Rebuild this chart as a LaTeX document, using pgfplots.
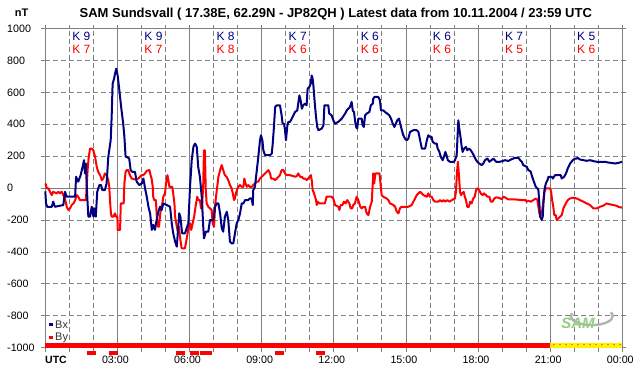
\documentclass[border=0pt]{standalone}
\usepackage{pgfplots}
\pgfplotsset{compat=1.18}
\usepackage{fontspec}
\setmainfont{Liberation Sans}
\usetikzlibrary{patterns.meta}
\definecolor{navy}{RGB}{0,0,128}
\definecolor{gridgray}{RGB}{128,128,128}
\definecolor{samgreen}{RGB}{110,190,90}
\tikzset{
  kb/.style={text=navy, font=\fontsize{12}{14}\selectfont, inner sep=0pt},
  kr/.style={text=red, font=\fontsize{12}{14}\selectfont, inner sep=0pt},
}

\begin{document}
\begin{tikzpicture}[x=1pt,y=1pt]
\fill[white] (0,0) rectangle (642,376);
\useasboundingbox (0,0) rectangle (642,376);
\begin{axis}[
  at={(45.3pt,28.3pt)}, anchor=south west,
  scale only axis, width=577pt, height=319.2pt,
  xmin=0, xmax=24, ymin=-1000, ymax=1000,
  clip=false,
  axis line style={gridgray, line width=0.8pt},
  xtick={0,1,...,24},
  xticklabels={},
  extra x ticks={0,3,...,24},
  extra x tick labels={\phantom{0},03:00,06:00,09:00,12:00,15:00,18:00,21:00,00:00},
  extra x tick style={grid=major, major grid style={gridgray, solid, line width=0.8pt}},
  tick align=outside,
  major tick length=4pt,
  tick style={gridgray, line width=0.8pt},
  ytick={-1000,-800,...,1000},
  yticklabels={-1000,-800,-600,-400,-200,0,200,400,600,800,1000},
  extra y ticks={0},
  extra y tick labels={},
  extra y tick style={grid=major, major grid style={gridgray, solid, line width=0.8pt}},
  xmajorgrids, ymajorgrids,
  major grid style={gridgray, line width=0.8pt, dash pattern=on 5pt off 3pt},
  tick label style={font=\fontsize{10.7}{12}\selectfont},
  xticklabel style={xshift=-2pt, yshift=-0.5pt},
  yticklabel style={anchor=west, xshift=-37.6pt},
]
% bottom status strip
\addplot[fill=red, draw=none] coordinates {(0,-1000) (21,-1000) (21,-969) (0,-969)} -- cycle;
\addplot[fill=yellow, draw=none] coordinates {(21,-1000) (24,-1000) (24,-969) (21,-969)} -- cycle;
\addplot[draw=none, pattern={Dots[distance=6pt, radius=0.55pt, xshift=2pt, yshift=1.5pt]}, pattern color=red] coordinates {(21,-1000) (24,-1000) (24,-969) (21,-969)} -- cycle;
% small red marks below the axis
\addplot[fill=red, draw=none] coordinates {(1.73,-1019) (2.11,-1019) (2.11,-1048) (1.73,-1048)} -- cycle;
\addplot[fill=red, draw=none] coordinates {(2.66,-1019) (3.01,-1019) (3.01,-1048) (2.66,-1048)} -- cycle;
\addplot[fill=red, draw=none] coordinates {(5.44,-1019) (5.81,-1019) (5.81,-1048) (5.44,-1048)} -- cycle;
\addplot[fill=red, draw=none] coordinates {(6.01,-1019) (6.39,-1019) (6.39,-1048) (6.01,-1048)} -- cycle;
\addplot[fill=red, draw=none] coordinates {(6.44,-1019) (6.92,-1019) (6.92,-1048) (6.44,-1048)} -- cycle;
\addplot[fill=red, draw=none] coordinates {(9.57,-1019) (9.92,-1019) (9.92,-1048) (9.57,-1048)} -- cycle;
\addplot[fill=red, draw=none] coordinates {(11.26,-1019) (11.63,-1019) (11.63,-1048) (11.26,-1048)} -- cycle;

% By (red)
\addplot[red, line width=2pt, line join=round] coordinates {
(0.00,29)(0.03,20)(0.06,-2)(0.13,-2)(0.20,-23)(0.27,-44)(0.33,-23)(0.47,-33)(0.54,-23)(0.61,-33)
(0.68,-23)(0.75,-44)(0.82,-65)(0.89,-117)(0.96,-137)(1.03,-127)(1.10,-106)(1.17,-96)(1.24,-75)(1.31,-44)
(1.37,-54)(1.44,-75)(1.69,-75)(1.72,8)(1.76,113)(1.80,185)(1.86,248)(1.93,248)(2.00,237)(2.07,196)
(2.14,133)(2.20,102)(2.28,81)(2.35,50)(2.41,60)(2.48,92)(2.55,81)(2.62,50)(2.66,8)(2.69,-75)
(2.73,-158)(2.76,-179)(2.83,-179)(2.90,-158)(2.94,-179)(3.00,-179)(3.01,-262)(3.11,-262)(3.14,-96)(3.26,-96)
(3.29,29)(3.34,102)(3.39,113)(3.45,113)(3.52,81)(3.59,60)(3.73,54)(3.87,60)(3.94,71)(4.01,81)
(4.08,81)(4.15,92)(4.22,108)(4.33,113)(4.38,81)(4.42,60)(4.47,8)(4.49,-54)(4.53,-75)(4.60,-75)
(4.63,-158)(4.68,-242)(4.73,-242)(4.77,-179)(4.81,-127)(4.87,-96)(4.91,-54)(4.98,-33)(5.02,29)(5.08,81)
(5.12,50)(5.16,8)(5.28,8)(5.32,-33)(5.37,-96)(5.40,-179)(5.47,-242)(5.53,-283)(5.56,-242)(5.60,-304)
(5.67,-377)(5.81,-377)(5.86,-335)(5.92,-283)(5.96,-242)(6.02,-221)(6.07,-262)(6.13,-221)(6.19,-179)(6.23,-137)
(6.27,-96)(6.32,-54)(6.36,-75)(6.43,-75)(6.48,-127)(6.52,-120)(6.57,29)(6.60,237)(6.64,237)(6.67,8)
(6.71,-96)(6.78,-117)(6.85,-127)(6.92,-137)(6.96,-221)(7.02,-242)(7.06,-117)(7.10,-54)(7.15,8)(7.20,71)
(7.27,113)(7.34,144)(7.40,113)(7.47,81)(7.54,71)(7.61,50)(7.68,19)(7.75,-2)(7.80,-33)(7.85,-75)
(7.89,-65)(7.93,-33)(7.99,-2)(8.03,8)(8.10,19)(8.17,8)(8.24,8)(8.28,60)(8.33,29)(8.38,8)
(8.44,19)(8.51,8)(8.59,8)(8.65,19)(8.72,29)(8.79,40)(8.86,40)(8.93,60)(9.00,71)(9.07,81)
(9.14,92)(9.21,102)(9.28,113)(9.35,92)(9.39,60)(9.48,60)(9.56,50)(9.63,60)(9.70,71)(9.76,81)
(9.83,113)(9.90,113)(9.97,92)(10.04,81)(10.18,81)(10.32,75)(10.39,71)(10.46,75)(10.52,92)(10.60,71)
(10.67,71)(10.73,60)(10.80,60)(10.87,50)(10.94,60)(11.01,75)(11.05,81)(11.09,40)(11.12,-12)(11.18,-33)
(11.22,-54)(11.26,-75)(11.29,-106)(11.33,-85)(11.40,-96)(11.63,-96)(11.70,-54)(11.91,-54)(11.98,-65)(12.05,-106)
(12.19,-117)(12.23,-137)(12.29,-106)(12.36,-106)(12.42,-85)(12.49,-96)(12.56,-75)(12.65,-96)(12.70,-127)(12.76,-127)
(12.81,-106)(12.88,-96)(12.95,-54)(13.02,-75)(13.10,-117)(13.16,-127)(13.23,-117)(13.30,-117)(13.37,-158)(13.44,-169)
(13.51,-117)(13.58,-85)(13.64,92)(13.68,29)(13.73,92)(13.84,92)(13.90,92)(13.95,19)(13.99,-44)(14.06,-54)
(14.20,-65)(14.27,-75)(14.34,-96)(14.48,-106)(14.55,-117)(14.62,-148)(14.69,-158)(14.75,-127)(14.82,-117)(15.10,-117)
(15.24,-106)(15.31,-85)(15.38,-65)(15.45,-44)(15.59,-23)(15.66,-33)(15.73,-44)(15.87,-54)(15.93,-33)(16.00,-54)
(16.07,-54)(16.14,-75)(16.21,-85)(16.35,-85)(16.42,-75)(16.49,-85)(16.56,-75)(16.63,-85)(16.72,-75)(16.81,-85)
(16.91,-75)(17.04,-65)(17.08,-23)(17.12,92)(17.16,165)(17.20,92)(17.25,-23)(17.29,-44)(17.34,-33)(17.40,-23)
(17.45,-54)(17.50,-75)(17.55,-117)(17.62,-117)(17.67,-85)(17.73,-96)(17.80,-65)(17.86,-54)(17.92,-12)(17.97,-2)
(18.04,-12)(18.11,-33)(18.19,-44)(18.25,-33)(18.33,-44)(18.39,-54)(18.47,-54)(18.53,-85)(18.60,-85)(18.68,-65)
(18.75,-58)(18.85,-60)(18.99,-69)(19.05,-54)(19.12,-58)(19.26,-71)(19.54,-71)(19.82,-75)(19.96,-75)(20.03,-85)
(20.10,-79)(20.19,-85)(20.30,-75)(20.41,-65)(20.47,-75)(20.51,-117)(20.55,-158)(20.61,-169)(20.66,-148)(20.72,-75)
(20.76,-23)(20.82,-2)(21.00,-2)(21.04,-23)(21.08,-75)(21.13,-117)(21.17,-169)(21.23,-169)(21.27,-200)(21.34,-190)
(21.41,-179)(21.48,-169)(21.55,-127)(21.62,-106)(21.69,-85)(21.76,-71)(21.83,-65)(21.96,-60)(22.10,-65)(22.24,-75)
(22.38,-85)(22.52,-96)(22.66,-106)(22.80,-127)(22.94,-127)(23.07,-117)(23.21,-110)(23.35,-96)(23.49,-102)(23.63,-106)
(23.74,-110)(23.84,-117)(23.99,-123)
};

% Bx (navy)
\addplot[navy, line width=2pt, line join=round] coordinates {
(0.00,-20)(0.03,-96)(0.08,-117)(0.27,-117)(0.33,-85)(0.40,-117)(0.75,-106)(0.82,-23)(0.89,-54)(1.24,-54)
(1.28,71)(1.37,40)(1.47,81)(1.55,133)(1.61,175)(1.65,92)(1.69,154)(1.72,29)(1.76,-96)(1.79,-179)
(1.86,-179)(1.93,-117)(2.00,-179)(2.04,-127)(2.10,-179)(2.16,-23)(2.25,19)(2.32,19)(2.37,-12)(2.48,-12)
(2.55,29)(2.62,196)(2.72,300)(2.76,446)(2.80,654)(2.86,685)(2.90,717)(2.95,748)(3.01,706)(3.08,613)
(3.14,529)(3.18,477)(3.24,404)(3.29,321)(3.34,196)(3.39,196)(3.49,185)(3.55,113)(3.62,102)(3.73,102)
(3.80,40)(3.91,19)(4.01,29)(4.08,60)(4.15,-2)(4.22,-54)(4.29,-117)(4.36,-158)(4.43,-262)(4.49,-230)
(4.56,-262)(4.63,-200)(4.70,-148)(4.77,-117)(4.84,-137)(4.91,-96)(5.05,-106)(5.19,-117)(5.26,-221)(5.32,-283)
(5.40,-335)(5.47,-367)(5.53,-242)(5.57,-158)(5.62,-180)(5.69,-283)(5.81,-283)(5.88,-252)(5.95,-221)(6.02,8)
(6.09,175)(6.16,258)(6.23,279)(6.30,258)(6.36,133)(6.43,71)(6.51,-60)(6.57,-242)(6.60,-315)(6.68,-273)
(6.78,-273)(6.85,-200)(6.99,-200)(7.06,-117)(7.13,-96)(7.20,-96)(7.27,-158)(7.34,-252)(7.40,-273)(7.47,-179)
(7.55,-148)(7.61,-200)(7.68,-335)(7.75,-346)(7.82,-346)(7.89,-283)(7.96,-221)(8.03,-200)(8.10,-158)(8.17,-96)
(8.24,-96)(8.31,-75)(8.44,-75)(8.51,-65)(8.58,-65)(8.63,-106)(8.65,-12)(8.72,8)(8.86,196)(8.93,300)
(8.97,331)(9.03,300)(9.07,237)(9.14,206)(9.35,206)(9.42,217)(9.46,279)(9.51,383)(9.56,508)(9.63,519)
(9.76,519)(9.83,456)(9.87,404)(9.93,404)(9.97,363)(10.01,300)(10.07,394)(10.11,415)(10.18,415)(10.25,435)
(10.32,456)(10.39,477)(10.48,487)(10.52,529)(10.57,581)(10.62,550)(10.67,498)(10.73,519)(10.80,529)(10.87,519)
(10.91,623)(10.98,633)(11.04,654)(11.08,706)(11.12,685)(11.15,644)(11.21,529)(11.26,446)(11.31,383)(11.36,363)
(11.50,373)(11.57,394)(11.61,519)(11.77,519)(11.81,467)(11.91,456)(11.98,425)(12.05,404)(12.19,415)(12.33,435)
(12.47,467)(12.54,487)(12.60,497)(12.67,508)(12.74,540)(12.79,485)(12.84,477)(12.89,415)(12.93,383)(12.97,373)
(13.02,435)(13.16,435)(13.20,394)(13.25,383)(13.30,456)(13.37,467)(13.48,477)(13.54,519)(13.62,529)(13.64,560)
(13.69,571)(13.85,571)(13.92,550)(13.96,487)(14.06,487)(14.13,477)(14.22,467)(14.31,456)(14.38,435)(14.45,404)
(14.52,383)(14.58,404)(14.64,425)(14.71,435)(14.78,394)(14.83,363)(14.89,331)(14.96,310)(15.03,300)(15.10,310)
(15.17,352)(15.31,363)(15.45,363)(15.52,352)(15.59,300)(15.66,248)(15.80,248)(15.87,300)(15.93,331)(16.00,321)
(16.07,321)(16.11,290)(16.21,279)(16.28,279)(16.32,248)(16.39,227)(16.45,196)(16.53,175)(16.58,196)(16.64,227)
(16.69,206)(16.74,175)(16.83,165)(17.00,165)(17.04,175)(17.11,206)(17.14,300)(17.18,425)(17.22,373)(17.28,310)
(17.32,258)(17.36,227)(17.42,248)(17.50,258)(17.55,237)(17.62,248)(17.70,237)(17.78,217)(17.85,196)(17.92,175)
(17.97,165)(18.05,154)(18.15,144)(18.22,154)(18.29,175)(18.39,185)(18.47,165)(18.56,175)(18.64,185)(18.75,165)
(18.90,165)(19.04,170)(19.12,175)(19.26,170)(19.40,181)(19.54,190)(19.68,190)(19.75,175)(19.82,165)(19.88,144)
(20.03,133)(20.09,113)(20.19,104)(20.23,81)(20.30,50)(20.35,29)(20.40,8)(20.47,-2)(20.51,-12)(20.55,-96)
(20.58,-179)(20.65,-200)(20.69,-179)(20.72,-96)(20.76,-12)(20.82,29)(20.89,50)(20.93,71)(21.07,71)(21.11,60)
(21.20,81)(21.34,81)(21.44,81)(21.48,60)(21.58,71)(21.66,92)(21.73,123)(21.83,154)(21.94,175)(22.03,185)
(22.10,185)(22.14,190)(22.24,179)(22.38,175)(22.52,171)(22.66,175)(22.80,169)(22.94,165)(23.07,165)(23.28,165)
(23.42,160)(23.56,158)(23.70,154)(23.84,158)(23.99,165)
};

% K indices
\node[kb] at (axis cs:1.5,950) {K 9};   \node[kr] at (axis cs:1.5,872) {K 7};
\node[kb] at (axis cs:4.5,950) {K 9};   \node[kr] at (axis cs:4.5,872) {K 7};
\node[kb] at (axis cs:7.5,950) {K 8};   \node[kr] at (axis cs:7.5,872) {K 8};
\node[kb] at (axis cs:10.5,950) {K 7};  \node[kr] at (axis cs:10.5,872) {K 6};
\node[kb] at (axis cs:13.5,950) {K 6};  \node[kr] at (axis cs:13.5,872) {K 6};
\node[kb] at (axis cs:16.5,950) {K 6};  \node[kr] at (axis cs:16.5,872) {K 6};
\node[kb] at (axis cs:19.5,950) {K 7};  \node[kr] at (axis cs:19.5,872) {K 5};
\node[kb] at (axis cs:22.5,950) {K 5};  \node[kr] at (axis cs:22.5,872) {K 6};
\end{axis}

% title and axis captions
\node[font=\bfseries\fontsize{13}{15}\selectfont, inner sep=0pt] at (335.8,362) {SAM Sundsvall ( 17.38E, 62.29N - JP82QH ) Latest data from 10.11.2004 / 23:59 UTC};
\node[font=\bfseries\fontsize{11}{13}\selectfont, inner sep=0pt] at (21.7,363) {nT};
\node[font=\bfseries\fontsize{10.5}{12}\selectfont, inner sep=0pt, anchor=west] at (45,16) {UTC};

% legend
\fill[navy] (49,50) rectangle (53,53);
\node[font=\fontsize{11}{13}\selectfont, inner sep=0pt, anchor=west, text=black!80] at (55,51.5) {Bx};
\fill[red] (49,36.7) rectangle (53,39.7);
\node[font=\fontsize{11}{13}\selectfont, inner sep=0pt, anchor=west, text=black!80] at (55,38.2) {By};

% SAM logo
\draw[gray!60, line width=2.4pt] (572,63) arc[start angle=160, end angle=385, x radius=21pt, y radius=9pt];
\node[font=\bfseries\itshape\fontsize{15}{15}\selectfont, text=samgreen!75!white, inner sep=0pt] at (578,53) {SAM};
\end{tikzpicture}
\end{document}
